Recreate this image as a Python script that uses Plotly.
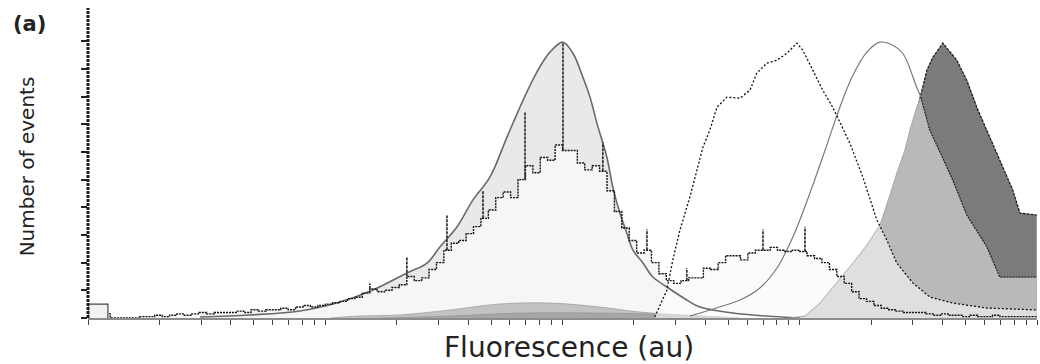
import plotly.graph_objects as go

# ---------------- data (x in log10 fluorescence units, y in events) ----------------
CHANNELS_PER_DECADE = 32
noisy_counts = [3, 3, 3,
                0, 0, 0, 0,
                1, 1, 2, 1, 2, 3, 2, 3,
                4, 3, 4, 4, 4, 5, 4, 6,
                5, 6, 6, 7, 6, 8, 9, 8,
                9, 10, 11, 12, 14, 15, 18, 21,
                19, 20, 22, 24, 30, 27, 29, 35,
                40, 49, 54, 56, 61, 66, 72, 78,
                87, 91, 87, 100, 110, 105, 116, 114,
                125, 121, 121, 112, 107, 110, 106, 92,
                77, 65, 56, 47, 49, 40, 32, 27,
                25, 27, 29, 29, 36, 35, 40, 45,
                45, 42, 47, 49, 49, 51, 49, 48,
                49, 48, 45, 43, 40, 35, 30, 25,
                19, 14, 12, 9, 7, 6, 5, 4,
                4, 4, 3, 2, 3, 2, 2, 1,
                2, 1, 1, 2, 1, 1, 1, 1, 1]

spike_log = [1.188, 1.344, 1.513, 1.665, 1.842, 2.002, 2.170, 2.356, 2.524, 2.845, 3.022]
spike_top = [25, 44, 74, 92, 149, 199, 127, 64, 36, 64, 66]

first_bin_log = [0.0, 0.084]
first_bin_count = 10

env_log = [0.472, 0.683, 0.893, 1.062, 1.201, 1.344, 1.429, 1.483, 1.555, 1.622, 1.694, 1.766,
           1.833, 1.892, 1.947, 2.002, 2.044, 2.086, 2.116, 2.145, 2.187, 2.212, 2.242, 2.271,
           2.297, 2.339, 2.381, 2.440, 2.524, 2.579, 2.718, 2.861, 3.000]
env_counts = [0.7, 2.2, 5.1, 11.6, 20.2, 32.5, 39.7, 51.3, 65.7, 85.2, 101.8, 130.7,
              157.1, 177.7, 192.1, 199.3, 191.3, 174.0, 159.6, 140.8, 116.2, 94.6, 75.8, 61.4,
              49.1, 39.7, 29.6, 22.4, 13.0, 7.9, 3.6, 1.4, 0.0]

dotted_log = [2.389, 2.419, 2.440, 2.465, 2.495, 2.537, 2.566, 2.592, 2.621, 2.651, 2.693, 2.748,
              2.790, 2.819, 2.861, 2.904, 2.946, 2.988, 3.013, 3.055, 3.097, 3.139, 3.211, 3.266,
              3.325, 3.367, 3.409, 3.477, 3.548, 3.645, 3.789, 3.999]
dotted_counts = [0.7, 13.0, 20.2, 41.9, 63.5, 87.4, 106.9, 123.5, 135.7, 152.3, 159.6, 158.8,
                 164.6, 176.9, 184.1, 186.3, 191.3, 198.6, 193.5, 179.1, 164.6, 152.3, 126.4, 101.8,
                 70.8, 56.3, 39.7, 25.3, 15.2, 10.8, 7.2, 5.8]

fit_log = [2.537, 2.621, 2.748, 2.832, 2.904, 2.971, 3.043, 3.114, 3.169, 3.224, 3.283, 3.338,
           3.392, 3.434, 3.493, 3.510]
fit_counts = [1.4, 5.8, 13.0, 21.7, 36.1, 58.5, 90.3, 124.9, 152.3, 175.4, 192.1, 199.3,
              197.1, 191.3, 166.8, 160.0]

mid_log = [2.958, 3.022, 3.085, 3.156, 3.224, 3.283, 3.338, 3.380, 3.409, 3.443, 3.464, 3.489,
           3.510, 3.548, 3.603, 3.645, 3.704, 3.789, 3.843, 3.999]
mid_counts = [0.0, 1.4, 10.8, 25.3, 39.7, 52.7, 67.1, 88.8, 104.7, 121.3, 135.7, 150.2,
              159.6, 135.7, 115.5, 99.6, 74.4, 51.3, 29.6, 29.6]

dark_log = [3.253, 3.338, 3.401, 3.443, 3.485, 3.510, 3.536, 3.561, 3.590, 3.603, 3.662, 3.704,
            3.746, 3.789, 3.843, 3.898, 3.928, 3.999]
dark_counts = [0.0, 27.4, 70.8, 106.9, 143.0, 161.0, 179.1, 188.4, 194.9, 198.6, 186.3, 171.8,
               152.3, 135.7, 114.1, 92.4, 75.8, 74.4]

hump_log = [1.020, 1.146, 1.315, 1.526, 1.736, 1.947, 2.158, 2.326, 2.579, 2.748]
hump_counts = [0.0, 1.4, 2.2, 5.8, 10.1, 10.8, 7.9, 4.3, 1.4, 0.0]
hump2_log = [1.231, 1.526, 1.821, 2.158, 2.495, 2.748]
hump2_counts = [0.0, 1.4, 3.6, 3.6, 2.2, 0.0]

y_ticks = [0, 20, 40, 60, 80, 100, 120, 140, 160, 180, 200]
decades = [1, 10, 100, 1000]
digits = [1, 2, 3, 4, 5, 6, 7, 8, 9]

x_title = "Fluorescence (au)"
y_title = "Number of events"
panel_label = "(a)"


def au(logs):
    return [10 ** v for v in logs]


# step histogram geometry for the raw data
edges = [10 ** (k / CHANNELS_PER_DECADE) for k in range(len(noisy_counts) + 1)]
noisy_x = edges[:-1] + [edges[-1]]
noisy_y = noisy_counts + [noisy_counts[-1]]

fig = go.Figure()

# ---------- fills (back to front) ----------
fig.add_trace(go.Scatter(x=au(env_log), y=env_counts, mode="lines", fill="tozeroy", line_shape="spline",
                         fillcolor="#e9e9e9", line=dict(width=0), hoverinfo="skip"))
fig.add_trace(go.Scatter(x=noisy_x, y=noisy_y, mode="lines", line_shape="hv", fill="tozeroy",
                         fillcolor="#f6f6f6", line=dict(width=0), hoverinfo="skip"))
fig.add_trace(go.Scatter(x=au(hump_log), y=hump_counts, mode="lines", fill="tozeroy",
                         fillcolor="#c2c2c2", line=dict(width=0.8, color="#a0a0a0"), line_shape="spline"))
fig.add_trace(go.Scatter(x=au(hump2_log), y=hump2_counts, mode="lines", fill="tozeroy",
                         fillcolor="#a6a6a6", line=dict(width=0.6, color="#909090"), line_shape="spline"))
fig.add_trace(go.Scatter(x=au(dark_log), y=dark_counts, mode="lines", fill="tozeroy",
                         fillcolor="#7b7b7b", line=dict(color="#1e1e1e", width=1.3, dash="3px,1px")))
fig.add_trace(go.Scatter(x=au(mid_log), y=mid_counts, mode="lines", fill="tozeroy",
                         fillcolor="#b9b9b9", line=dict(width=0)))
fig.add_trace(go.Scatter(x=au(dotted_log), y=dotted_counts, mode="lines", fill="tozeroy",
                         fillcolor="rgba(255,255,255,0.55)", line=dict(width=0)))

# ---------- outlines ----------
fig.add_trace(go.Scatter(x=au(env_log), y=env_counts, mode="lines", line_shape="spline",
                         line=dict(color="#6a6a6a", width=1.6)))
fig.add_trace(go.Scatter(x=au(fit_log), y=fit_counts, mode="lines", line_shape="spline",
                         line=dict(color="#7a7a7a", width=1.2)))
mid_peak = mid_counts.index(max(mid_counts))
fig.add_trace(go.Scatter(x=au(mid_log[:mid_peak + 1]), y=mid_counts[:mid_peak + 1], mode="lines",
                         line=dict(color="#9a9a9a", width=0.8)))
fig.add_trace(go.Scatter(x=au(mid_log[mid_peak:]), y=mid_counts[mid_peak:], mode="lines",
                         line=dict(color="#222222", width=1.2, dash="2px,1px")))
fig.add_trace(go.Scatter(x=au(dotted_log), y=dotted_counts, mode="lines",
                         line=dict(color="#111111", width=1.3, dash="2px,2px")))
fig.add_trace(go.Scatter(x=noisy_x, y=noisy_y, mode="lines", line_shape="hv",
                         line=dict(color="#111111", width=1.4, dash="2px,1px")))

# spikes of the raw histogram
sx, sy = [], []
for lg, top in zip(spike_log, spike_top):
    base = noisy_counts[min(int(lg * CHANNELS_PER_DECADE), len(noisy_counts) - 1)]
    sx += [10 ** lg, 10 ** lg, None]
    sy += [base, top, None]
fig.add_trace(go.Scatter(x=sx, y=sy, mode="lines",
                         line=dict(color="#222222", width=1.6, dash="3px,1px")))

# first (off-scale) channel box
bx = [10 ** first_bin_log[0], 10 ** first_bin_log[0], 10 ** first_bin_log[1], 10 ** first_bin_log[1]]
by = [0, first_bin_count, first_bin_count, 0]
fig.add_trace(go.Scatter(x=bx, y=by, mode="lines", fill="toself", fillcolor="#f2f2f2",
                         line=dict(color="#444444", width=1.2)))

# ---------- axes ----------
x_tickvals = [d * dec for dec in decades for d in digits] + [10000]

fig.update_xaxes(type="log", range=[0, 4], tickvals=x_tickvals, showticklabels=False,
                 ticks="outside", ticklen=5, tickwidth=1.2, tickcolor="#444444",
                 showgrid=False, zeroline=False, showline=True, linecolor="#8c8c8c", linewidth=2)
fig.update_yaxes(range=[0, 224], tickvals=y_ticks, showticklabels=False,
                 ticks="outside", ticklen=6, tickwidth=1.5, tickcolor="#222222",
                 showgrid=False, zeroline=False, showline=False)

fig.add_shape(type="line", xref="paper", yref="paper", x0=0, x1=0, y0=0, y1=1,
              line=dict(color="#1a1a1a", width=3, dash="3px,1px"), layer="above")

fig.add_annotation(text=x_title, xref="paper", yref="paper", x=0.507, y=-0.094,
                   xanchor="center", yanchor="middle", showarrow=False,
                   font=dict(family="DejaVu Sans", size=28, color="#222222"))
fig.add_annotation(text=y_title, xref="paper", yref="paper", x=-0.064, y=0.49,
                   xanchor="center", yanchor="middle", textangle=-90, showarrow=False,
                   font=dict(family="DejaVu Sans", size=20, color="#222222"))
fig.add_annotation(text="<b>" + panel_label + "</b>", xref="paper", yref="paper", x=-0.081, y=0.948,
                   xanchor="left", yanchor="middle", showarrow=False,
                   font=dict(family="DejaVu Sans", size=21, color="#222222"))

fig.update_layout(width=1040, height=364, showlegend=False,
                  margin=dict(l=88, r=3, t=8, b=46),
                  plot_bgcolor="white", paper_bgcolor="white")

fig.write_html("out.html", config={"displayModeBar": False},
               post_script="document.body.style.margin='0';document.body.style.overflow='hidden';")
